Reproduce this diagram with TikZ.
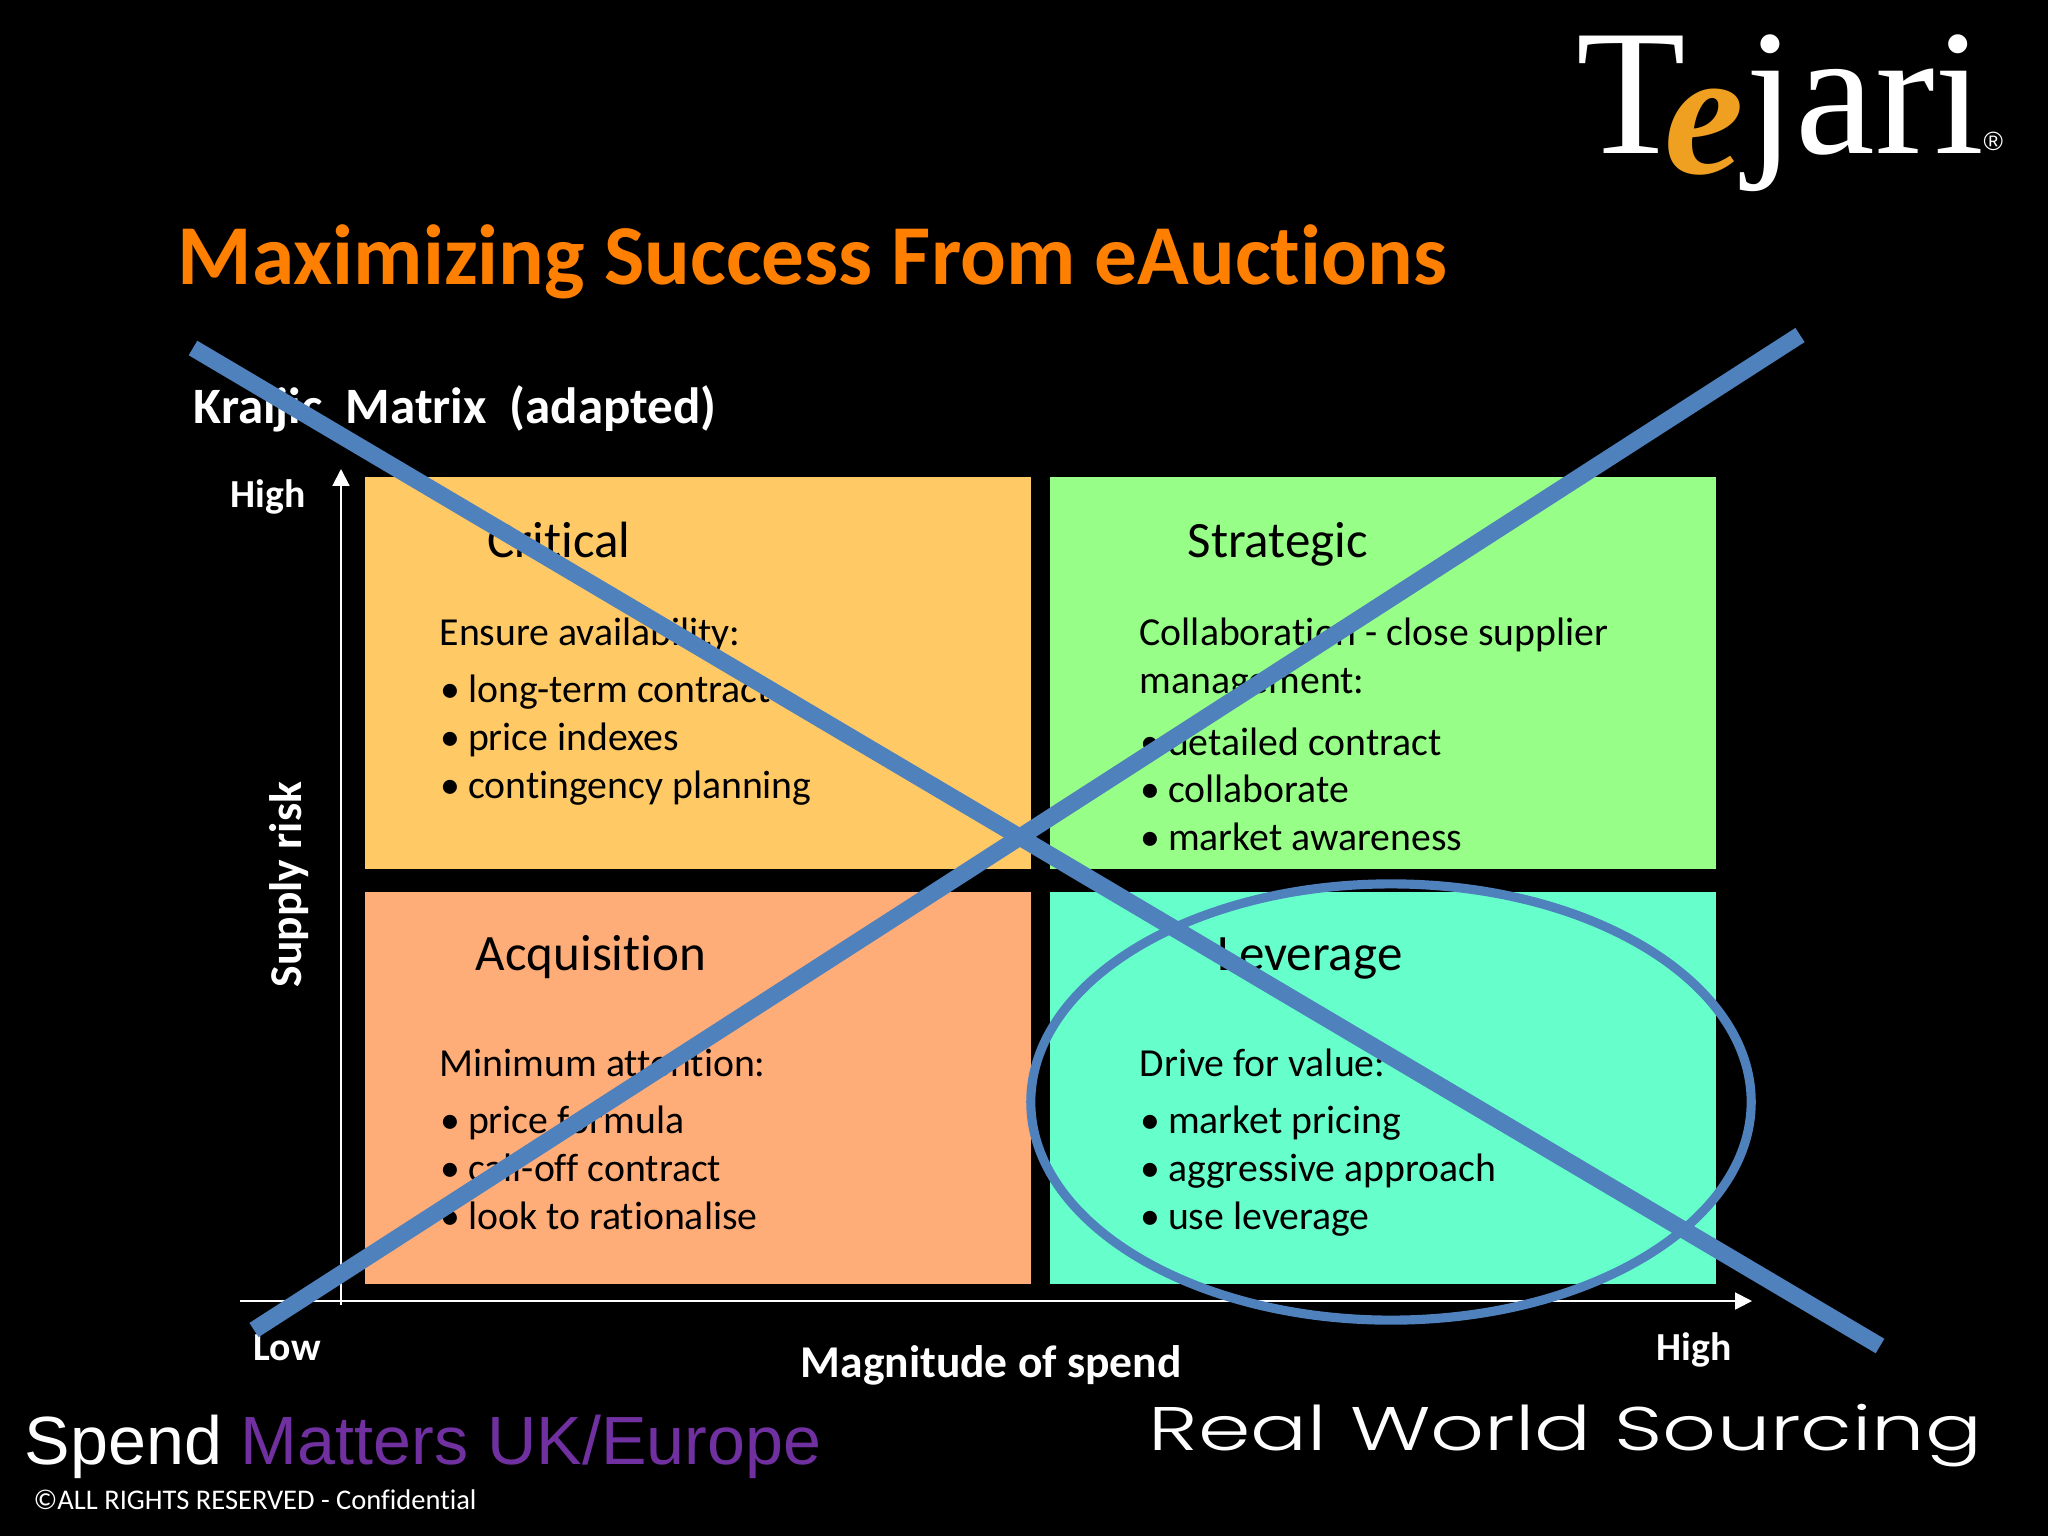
\documentclass[tikz,border=0pt]{standalone}
\usepackage{fontspec}
\setmainfont[Ligatures=NoCommon]{Carlito}
\newfontfamily\arialfont{Liberation Sans}
\newfontfamily\timesfont{Liberation Serif}
\newfontfamily\rwsfont[UprightFont={* Light}]{Poppins}
\usetikzlibrary{arrows.meta,shapes.geometric}
\definecolor{critcol}{HTML}{FFC966}
\definecolor{stratcol}{HTML}{97FF87}
\definecolor{acqcol}{HTML}{FFAD78}
\definecolor{levcol}{HTML}{66FFCC}
\definecolor{crosscol}{HTML}{4F81BD}
\definecolor{titlecol}{HTML}{FF8000}
\definecolor{spendcol}{HTML}{7030A0}
\definecolor{logocol}{HTML}{F0A020}
\newcommand{\fsize}[1]{\fontsize{#1}{#1}\selectfont}
\newcommand{\bul}[1]{\makebox[7.8pt][l]{\textbullet}#1}
\tikzset{
  txt/.style={inner sep=0pt, anchor=base west},
  cell/.style={inner sep=0pt, anchor=north west, minimum width=6.66cm, minimum height=3.92cm},
  head/.style={txt, text=black, font=\fsize{14.5}},
  body/.style={txt, text=black, font=\fsize{11.3}},
  lab/.style={txt, text=white, font=\bfseries\fsize{11.3}},
  logo/.style={txt, text=white, font=\timesfont\fsize{51}},
  axis/.style={white, line width=0.6pt, -{Triangle[length=4.8pt,width=4.8pt]}},
  cross/.style={crosscol, line width=4.8pt}
}
\begin{document}
\begin{tikzpicture}[x=0.01cm, y=-0.01cm]
    \fill[black] (0,0) rectangle (2048,1536);
    \useasboundingbox (0,0) rectangle (2048,1536);

    % Logo
    \node[logo] (logoT) at (1576,153) {T};
    \node[logo, text=logocol, font=\timesfont\bfseries\itshape\fsize{51}] (logoe) at (1664,173) {e};
    \node[logo] (logojari) at (1745,153) {jari};
    \node[txt, text=white, font=\arialfont\fsize{7.5}] (logoreg) at (1983,150) {®};

    % Titles
    \node[txt, text=titlecol, font=\bfseries\fsize{24.25}] (title) at (177,284) {Maximizing Success From eAuctions};
    \node[lab, font=\bfseries\fsize{14.5}] (subtitle) at (193,423) {Kraljic\ \ Matrix\ \ (adapted)};

    % Quadrants
    \node[cell, fill=critcol] (critical) at (364,476) {};
    \node[cell, fill=stratcol] (strategic) at (1049,476) {};
    \node[cell, fill=acqcol] (acquisition) at (364,891) {};
    \node[cell, fill=levcol] (leverage) at (1049,891) {};

    % Critical
    \node[head] (crithead) at (487,557) {Critical};
    \node[body] (critintro) at (439,645) {Ensure availability:};
    \node[body] (crita) at (440,702) {\bul{long-term contract}};
    \node[body] (critb) at (440,750) {\bul{price indexes}};
    \node[body] (critc) at (440,798) {\bul{contingency planning}};

    % Strategic
    \node[head] (strathead) at (1187,557) {Strategic};
    \node[body] (stratintro) at (1139,645) {Collaboration - close supplier};
    \node[body] (stratintrob) at (1139,693) {management:};
    \node[body] (strata) at (1140,755) {\bul{detailed contract}};
    \node[body] (stratb) at (1140,802) {\bul{collaborate}};
    \node[body] (stratc) at (1140,850) {\bul{market awareness}};

    % Acquisition
    \node[head] (acqhead) at (475,970) {Acquisition};
    \node[body] (acqintro) at (439,1076) {Minimum attention:};
    \node[body] (acqa) at (440,1133) {\bul{price formula}};
    \node[body] (acqb) at (440,1181) {\bul{call-off contract}};
    \node[body] (acqc) at (440,1229) {\bul{look to rationalise}};

    % Leverage
    \node[head] (levhead) at (1217,970) {Leverage};
    \node[body] (levintro) at (1139,1076) {Drive for value:};
    \node[body] (leva) at (1140,1133) {\bul{market pricing}};
    \node[body] (levb) at (1140,1181) {\bul{aggressive approach}};
    \node[body] (levc) at (1140,1229) {\bul{use leverage}};

    % Axes
    \coordinate (yfoot) at (341,1305);
    \coordinate (ytip) at (341,469);
    \coordinate (xfoot) at (240,1301);
    \coordinate (xtip) at (1752,1301);
    \draw[axis] (yfoot) -- (ytip);
    \draw[axis] (xfoot) -- (xtip);
    \node[lab] (yhigh) at (230,507) {High};
    \node[lab] (xlow) at (253,1360) {Low};
    \node[lab] (xhigh) at (1656,1360) {High};
    \node[lab, font=\bfseries\fsize{12.95}] (xname) at (800,1377) {Magnitude of spend};
    \node[lab, font=\bfseries\fsize{12.95}, rotate=90] (yname) at (301,988) {Supply risk};

    % Footer
    \node[txt, text=white, font=\arialfont\fsize{19.4}] (spend) at (24,1464) {Spend \textcolor{spendcol}{Matters UK/Europe}};
    \node[txt, text=white, font=\fsize{8.1}] (rights) at (33,1509) {©ALL RIGHTS RESERVED - Confidential};
    \node[txt, text=white, font=\rwsfont\fsize{17.5}, xscale=1.37] (rws) at (1148,1450) {Real World Sourcing};

    % Ellipse and big cross on top
    \node[draw=crosscol, line width=2.6pt, ellipse, inner sep=0pt, minimum width=7.2cm, minimum height=4.36cm] (ring) at (1391,1102) {};
    \coordinate (crossaa) at (193,348);
    \coordinate (crossab) at (1880,1346);
    \coordinate (crossba) at (254,1330);
    \coordinate (crossbb) at (1800,335);
    \draw[cross] (crossaa) -- (crossab);
    \draw[cross] (crossba) -- (crossbb);
\end{tikzpicture}
\end{document}
